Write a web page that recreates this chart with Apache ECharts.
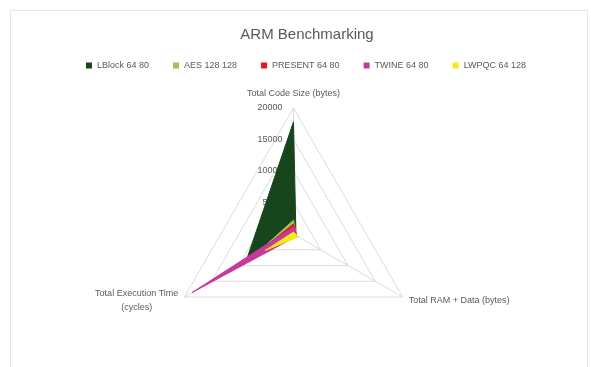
<!DOCTYPE html>
<html>
<head>
<meta charset="utf-8">
<script src="https://cdn.jsdelivr.net/npm/echarts@6/dist/echarts.min.js"></script>
<style>
  html, body { margin: 0; padding: 0; background: #fff; }
  #chart { width: 591px; height: 367px; }
</style>
</head>
<body>
<div id="chart"></div>
<script>
// Axes, in the order ECharts places them (top, lower-left, lower-right)
const axisNames = ['Total Code Size (bytes)', 'Total Execution Time\n(cycles)', 'Total RAM + Data (bytes)'];
const axisMax = 20000;
const tickStep = 5000;

// One entry per cipher: [code size, execution time, RAM + data]
const seriesNames = ['LBlock 64 80', 'AES 128 128', 'PRESENT 64 80', 'TWINE 64 80', 'LWPQC 64 128'];
const lblock  = [17800, 8700, 450];
const aes     = [2200, 7800, 500];
const present = [1600, 8200, 550];
const twine   = [1100, 18600, 650];
const lwpqc   = [300, 5200, 900];
const seriesColors = ['#17451c', '#9bc45a', '#e8141e', '#c8389a', '#f7e818'];

const values = [lblock, aes, present, twine, lwpqc];

const cx = 293.5, cy = 234, r = 126;
const textColor = '#595959';
const font = 'Liberation Sans';

const chart = echarts.init(document.getElementById('chart'));
chart.setOption({
  backgroundColor: '#fff',
  animation: false,
  textStyle: { fontFamily: font },
  title: {
    text: 'ARM Benchmarking',
    left: 302, top: 22, textAlign: 'center',
    textStyle: { color: textColor, fontSize: 15, fontWeight: 'normal', fontFamily: font }
  },
  legend: {
    data: seriesNames,
    top: 56, left: 81,
    itemWidth: 6, itemHeight: 6, itemGap: 24,
    icon: 'rect',
    textStyle: { color: textColor, fontSize: 9, fontFamily: font }
  },
  graphic: [{
    type: 'rect', silent: true, z: -10,
    shape: { x: 10.5, y: 10.5, width: 577, height: 370 },
    style: { fill: 'none', stroke: '#e6e6e6', lineWidth: 1 }
  }],
  radar: {
    center: [cx, cy],
    radius: r,
    shape: 'polygon',
    splitNumber: axisMax / tickStep,
    indicator: axisNames.map(n => ({ name: n, min: 0, max: axisMax })),
    nameGap: 7,
    axisName: {
      color: textColor, fontSize: 9, fontFamily: font,
      formatter: n => n.split('\n').map(s => '{c|' + s + '}').join('\n'),
      rich: { c: { align: 'center', color: textColor, fontSize: 9, fontFamily: font, lineHeight: 14 } }
    },
    splitLine: { lineStyle: { color: '#dcdcdc', width: 1 } },
    splitArea: { show: false },
    axisLine: { lineStyle: { color: '#dcdcdc', width: 1 } },
    axisTick: { show: false },
    axisLabel: { show: false }
  },
  // value scale along the upward axis
  grid: { left: cx, top: cy - r, width: 1, height: r, containLabel: false },
  xAxis: { type: 'value', show: false, min: 0, max: 1 },
  yAxis: {
    type: 'value', min: 0, max: axisMax, interval: tickStep,
    axisLine: { show: false }, axisTick: { show: false }, splitLine: { show: false },
    axisLabel: {
      color: textColor, fontSize: 9, fontFamily: font, margin: 11,
      formatter: v => (v === 0 ? '' : String(v))
    }
  },
  series: [{
    type: 'radar',
    z: 3,
    symbol: 'none',
    data: values.map((v, i) => ({
      name: seriesNames[i],
      value: v,
      itemStyle: { color: seriesColors[i] },
      lineStyle: { color: seriesColors[i], width: 1 },
      areaStyle: { color: seriesColors[i], opacity: 1 }
    }))
  }]
});
</script>
</body>
</html>
